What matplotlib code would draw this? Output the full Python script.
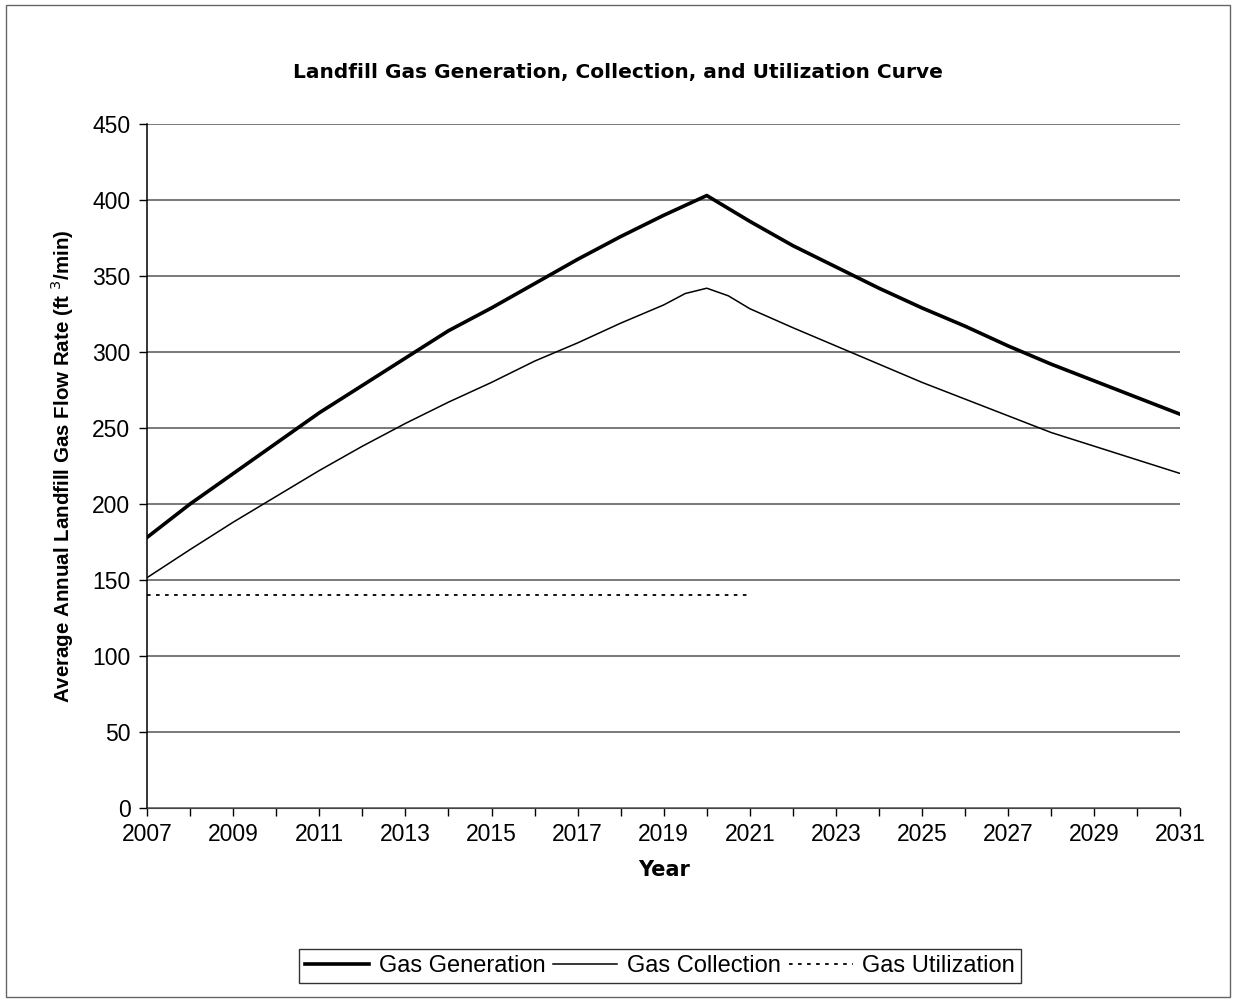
import matplotlib.pyplot as plt
from matplotlib.patches import Rectangle

plt.rcParams['font.family'] = ['Liberation Sans', 'DejaVu Sans']

gen_years = [2007, 2008, 2009, 2010, 2011, 2012, 2013, 2014, 2015, 2016, 2017, 2018, 2019,
             2020, 2021, 2022, 2023, 2024, 2025, 2026, 2027, 2028, 2029, 2030, 2031]
gen_flow = [178, 200, 220, 240, 260, 278, 296, 314, 329, 345, 361, 376, 390,
            403, 386, 370, 356, 342, 329, 317, 304, 292, 281, 270, 259]

col_years = [2007, 2008, 2009, 2010, 2011, 2012, 2013, 2014, 2015, 2016, 2017, 2018, 2019,
             2019.5, 2020, 2020.5, 2021, 2022, 2023, 2024, 2025, 2026, 2027, 2028, 2029, 2030, 2031]
col_flow = [151.5, 170, 188, 205, 222, 238, 253, 267, 280, 294, 306, 319, 331,
            338.5, 342, 337, 328.5, 316, 304, 292, 280, 269, 258, 247, 238, 229, 220]

util_years = [2007, 2021]
util_flow = [140, 140]

fig = plt.figure(figsize=(12.36, 10.01), dpi=100)
ax = fig.add_axes([0.119, 0.193, 0.836, 0.683])

ax.plot(gen_years, gen_flow, color='black', lw=2.6, label='Gas Generation')
ax.plot(col_years, col_flow, color='black', lw=1.1, label='Gas Collection')
ax.plot(util_years, util_flow, color='black', lw=1.3, ls=(0, (2, 3)), label='Gas Utilization')

ax.set_xlim(2007, 2031)
ax.set_ylim(0, 450)
ax.set_xticks(range(2007, 2032))
ax.set_xticklabels([str(y) if (y - 2007) % 2 == 0 else '' for y in range(2007, 2032)])
ax.set_yticks(range(0, 451, 50))
ax.yaxis.grid(True, color='#555555', lw=1.1)
ax.set_axisbelow(True)
for s in ['top', 'right']:
    ax.spines[s].set_visible(False)
ax.spines['left'].set_linewidth(1.1)
ax.spines['bottom'].set_color('#444444')
ax.tick_params(axis='both', direction='out', length=6, width=1, labelsize=16.5)
ax.tick_params(axis='x', pad=5)
ax.tick_params(axis='y', pad=6)

ax.set_xlabel('Year', fontsize=15, fontweight='bold', labelpad=10, family='DejaVu Sans')
ax.set_ylabel('Average Annual Landfill Gas Flow Rate (ft $^{3}$/min)', fontsize=14.8,
              fontweight='bold', labelpad=12)
fig.text(0.5, 0.928, 'Landfill Gas Generation, Collection, and Utilization Curve',
         ha='center', va='center', fontsize=14.5, fontweight='bold', family='DejaVu Sans')

leg = fig.legend(loc='center', bbox_to_anchor=(0.534, 0.035), ncol=3, fontsize=17,
                 frameon=True, fancybox=False, edgecolor='black', handlelength=2.7,
                 handletextpad=0.4, columnspacing=0.35, borderpad=0.25, borderaxespad=0)
leg.get_frame().set_linewidth(1)

fig.patches.append(Rectangle((0.005, 0.004), 0.99, 0.991, transform=fig.transFigure,
                             fill=False, edgecolor='#666666', lw=1))

fig.savefig('out.png', dpi=100)
